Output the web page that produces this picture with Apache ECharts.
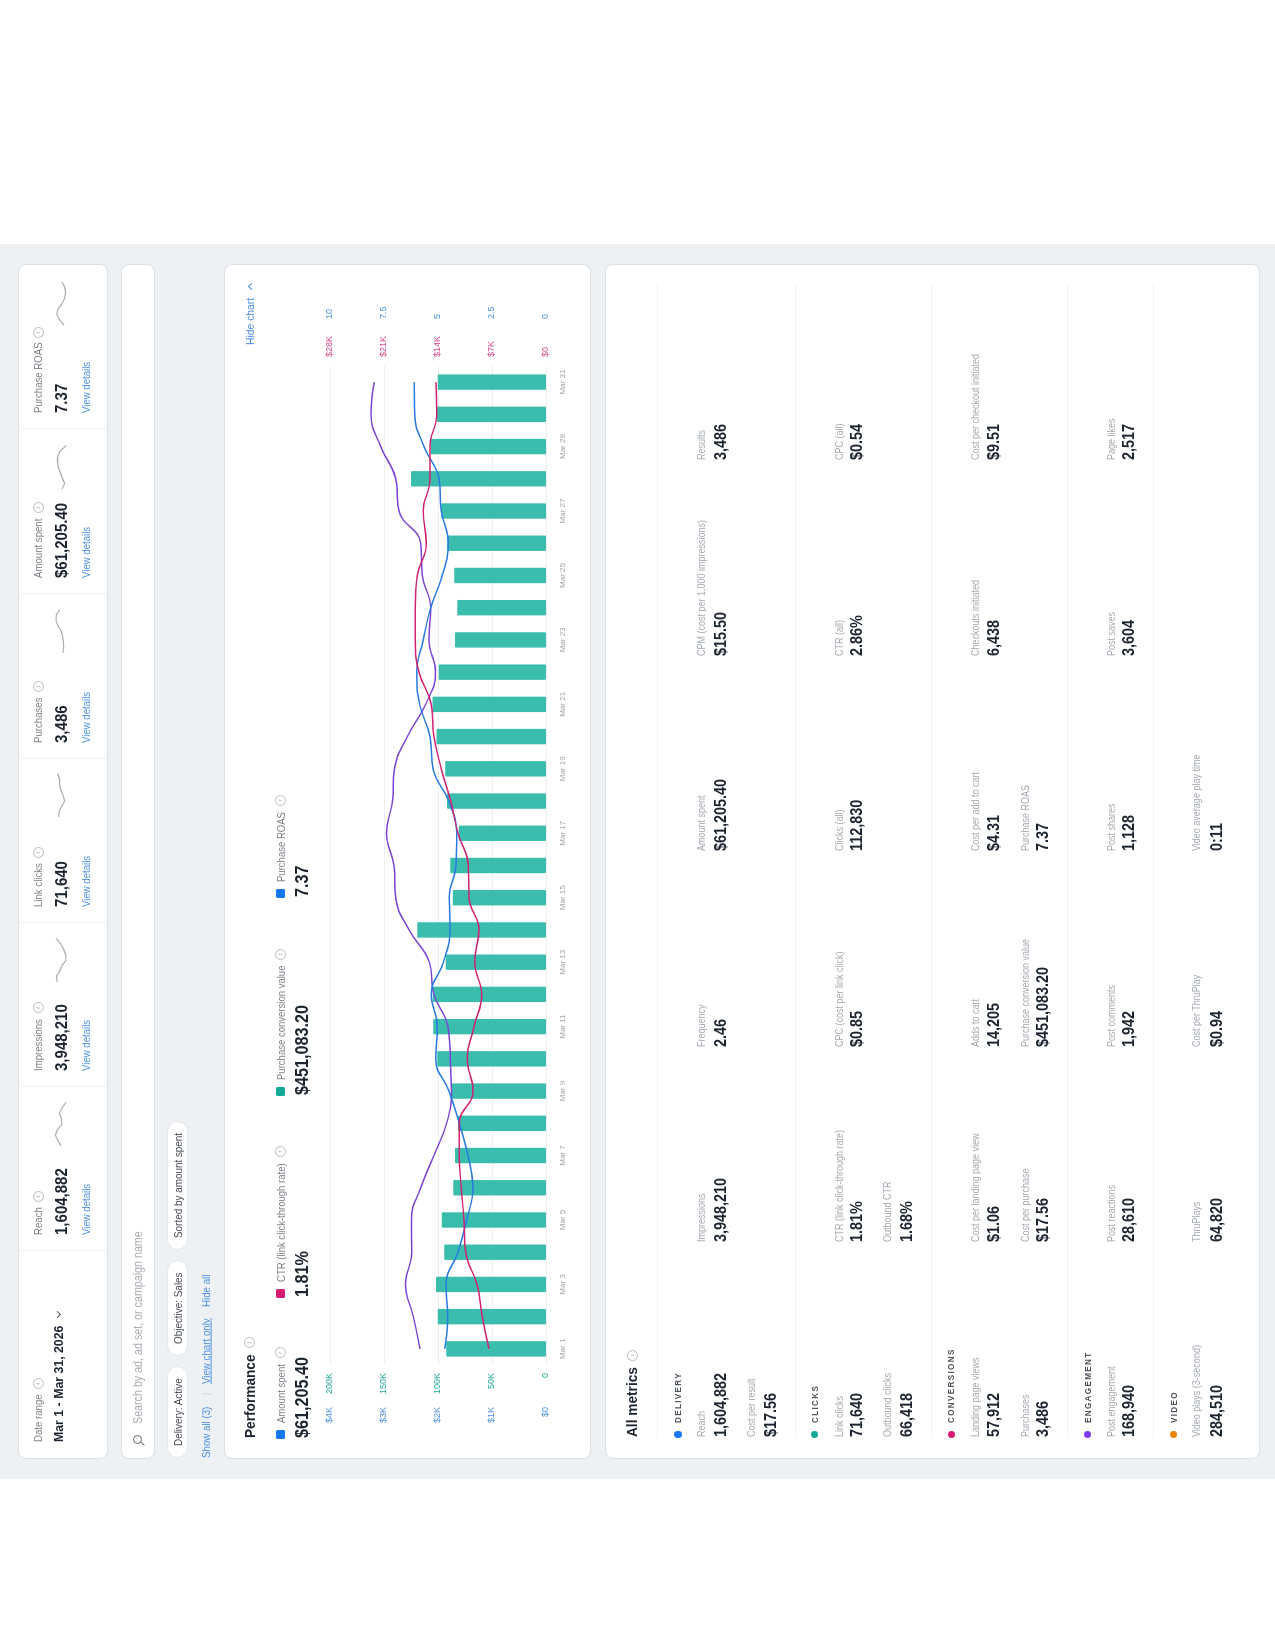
<!DOCTYPE html>
<html><head><meta charset="utf-8">
<style>
html,body{margin:0;padding:0;width:1275px;height:1650px;background:#fff;overflow:hidden;font-family:"Liberation Sans",Arial,sans-serif}
#stage{position:absolute;left:0;top:0;width:1235px;height:1275px;background:#eef1f4;transform-origin:0 0;transform:translate(0px,1479px) rotate(-90deg);overflow:hidden;filter:blur(0.3px)}
.card{position:absolute;background:#fff;border-radius:7px;box-shadow:0 0 0 1px #dde1e6,0 1px 1px #d3d7dc}
.t{position:absolute;white-space:nowrap;line-height:1;transform-origin:0 50%}
.ic{position:absolute;width:9px;height:9px;border:1px solid #b9bdc2;border-radius:50%;color:#a5a9ae;font:italic 7px/9px "Liberation Serif",serif;text-align:center}
.ln{position:absolute;background:#f1f2f4}
.chip{position:absolute;height:21.7px;background:#fff;border:1px solid #e2e5e9;border-radius:11px;box-sizing:border-box}
.chev{position:absolute;width:4px;height:4px;border-right:1.1px solid;border-bottom:1.1px solid}
#chart{position:absolute;left:0;top:0;width:1235px;height:1275px;z-index:5}
</style>
<script src="https://cdn.jsdelivr.net/npm/echarts@6/dist/echarts.min.js"></script>
</head><body>
<div id="stage"><div id="chart"></div></div>
<script>
// ---------- chart data ----------
const days = ['Mar 1','Mar 2','Mar 3','Mar 4','Mar 5','Mar 6','Mar 7','Mar 8','Mar 9','Mar 10','Mar 11','Mar 12','Mar 13','Mar 14','Mar 15','Mar 16','Mar 17','Mar 18','Mar 19','Mar 20','Mar 21','Mar 22','Mar 23','Mar 24','Mar 25','Mar 26','Mar 27','Mar 28','Mar 29','Mar 30','Mar 31'];
const conversionValue = [92300,100300,101900,94100,96600,85800,84300,81500,87300,100600,104300,104900,92900,119100,86400,88600,80900,91700,93200,101500,105200,99400,84300,82100,84900,91400,96900,125000,106800,101200,100300];
const amountSpent = [1877,1821,1852,1630,1469,1352,1444,1605,1796,2043,2012,2123,1901,1778,1790,1667,1654,1802,2093,2148,2340,2395,2272,2136,1920,1809,1938,1981,2259,2432,2438];
const ctrLine = [7389,8253,8944,10414,10630,10975,11235,11235,9463,10198,9333,8340,9247,8685,9982,10068,11407,12358,13568,14519,14864,16463,16938,16938,16679,15512,15901,15037,15037,14173,14259];
const roasLine = [5.83,6.14,6.50,6.22,6.23,5.80,5.19,4.60,4.38,4.43,4.54,5.19,5.40,6.34,6.96,7.04,7.38,7.11,7.01,6.42,5.57,5.11,5.42,5.34,5.73,5.80,6.81,6.96,7.65,8.10,7.95];
const sparkReach = [45,54,62,56,42,44,50,42,30];
const sparkImpressions = [56,59,49,42,30,31,37,46,59];
const sparkLinkClicks = [52,51,42,34,39,46,49,49,56];
const sparkPurchases = [39,37,38,40,44,54,60,59,49];
const sparkAmount = [42,34,41,47,53,56,55,47,29];
const sparkRoas = [36,49,58,54,42,34,31,34,42];

// ---------- text data ----------
const kpiLabels = ['Reach','Impressions','Link clicks','Purchases','Amount spent','Purchase ROAS'];
const kpiValues = ['1,604,882','3,948,210','71,640','3,486','$61,205.40','7.37'];
const legendLabels = ['Amount spent','CTR (link click-through rate)','Purchase conversion value','Purchase ROAS'];
const legendValues = ['$61,205.40','1.81%','$451,083.20','7.37'];
const delivery1 = [['Reach','1,604,882'],['Impressions','3,948,210'],['Frequency','2.46'],['Amount spent','$61,205.40'],['CPM (cost per 1,000 impressions)','$15.50'],['Results','3,486']];
const delivery2 = [['Cost per result','$17.56']];
const clicks1 = [['Link clicks','71,640'],['CTR (link click-through rate)','1.81%'],['CPC (cost per link click)','$0.85'],['Clicks (all)','112,830'],['CTR (all)','2.86%'],['CPC (all)','$0.54']];
const clicks2 = [['Outbound clicks','66,418'],['Outbound CTR','1.68%']];
const conv1 = [['Landing page views','57,912'],['Cost per landing page view','$1.06'],['Adds to cart','14,205'],['Cost per add to cart','$4.31'],['Checkouts initiated','6,438'],['Cost per checkout initiated','$9.51']];
const conv2 = [['Purchases','3,486'],['Cost per purchase','$17.56'],['Purchase conversion value','$451,083.20'],['Purchase ROAS','7.37']];
const engage1 = [['Post engagement','168,940'],['Post reactions','28,610'],['Post comments','1,942'],['Post shares','1,128'],['Post saves','3,604'],['Page likes','2,517']];
const video1 = [['Video plays (3-second)','284,510'],['ThruPlays','64,820'],['Cost per ThruPlay','$0.94'],['Video average play time','0:11']];

// ---------- page furniture (drawn upright in a stage that is turned -90deg) ----------
const stage = document.getElementById('stage');
const K = 0.9;
function el(cls, css, html){const d=document.createElement('div');d.className=cls;d.style.cssText=css;if(html!=null)d.innerHTML=html;stage.appendChild(d);return d;}
function card(x,y,w,h){el('card',`left:${x}px;top:${y}px;width:${w}px;height:${h}px`);}
function T(x,y,s,size,color,opt){opt=opt||{};
  const d=document.createElement('div');d.className='t';d.textContent=s;
  d.style.cssText=`left:${x}px;top:${y}px;font-size:${size}px;color:${color};font-weight:${opt.bold?700:400};transform:translateY(-50%) scaleX(${K});`+(opt.css||'');
  stage.appendChild(d);return d;}
function info(afterEl,x,y,gap){const w=afterEl.offsetWidth*K;el('ic',`left:${x+w+(gap==null?5:gap)}px;top:${y-5.5}px`,'i');}
function sq(x,y,c){el('x',`position:absolute;left:${x}px;top:${y-4.5}px;width:9px;height:9px;border-radius:1.5px;background:${c}`);}

const BLUE='#4a90e2',DARK='#1c2430',GREY='#7b8087',LIGHT='#a3a9b0';
// cards
card(21.3,18.7,1193,88.3);card(21.3,122.3,1193,32);card(21.3,224.7,1193,365);card(21.3,606,1193,652.5);
// KPI row
const cellX=[228,392.4,555.7,720.4,885.4,1049.6];
cellX.forEach(x=>el('ln',`left:${x}px;top:18.7px;width:1px;height:88.3px`));
const dr=T(37,38,'Date range',10.7,GREY,{});
info(dr,37,38);
T(37,58.5,'Mar 1 - Mar 31, 2026',13.7,DARK,{bold:1});
el('chev','left:162px;top:54.5px;color:#555;transform:rotate(45deg)');
kpiLabels.forEach((l,i)=>{const x=cellX[i]+16;
  const a=T(x,38,l,10.7,GREY);info(a,x,38);
  T(x,62,kpiValues[i],16.7,DARK,{bold:1});
  T(x,86,'View details',10.7,BLUE);
});
// search card
el('x','position:absolute;left:35px;top:133px;width:7px;height:7px;border:1.2px solid #666;border-radius:50%');
el('x','position:absolute;left:33px;top:142px;width:5px;height:1.2px;background:#666;transform:rotate(-45deg)');
T(55,138.5,'Search by ad, ad set, or campaign name',11.9,'#a9adb2');
// chips
[[21.3,91.7,'Delivery: Active'],[122.5,96.5,'Objective: Sales'],[229.4,129,'Sorted by amount spent']].forEach(c=>{
  el('chip',`left:${c[0]}px;top:166.7px;width:${c[1]}px`);
  const d=T(c[0],177.5,c[2],11,'#454a52');d.style.left=(c[0]+(c[1]-d.offsetWidth*K)/2)+'px';
});
T(21.3,205.7,'Show all (3)',10.8,BLUE);
T(84,205.7,'|',9,'#c9ccd0');
T(95,205.7,'View chart only',10.8,BLUE,{css:'text-decoration:underline;'});
T(171.5,205.7,'Hide all',10.8,BLUE);
// performance header
const pf=T(41,249.5,'Performance',15.2,DARK,{bold:1});info(pf,41,249.5,6);
T(1134,250.5,'Hide chart',11.5,BLUE);
el('chev','left:1190px;top:249px;color:#4a90e2;transform:rotate(225deg)');
const legX=[40,181,383,581],legC=['#1877f2','#d81b72','#14a898','#1877f2'];
legendLabels.forEach((l,i)=>{sq(legX[i],280.7,legC[i]);
  const a=T(legX[i]+16,280.5,l,10.6,GREY);info(a,legX[i]+16,280.5,6);
  T(legX[i]+1,302,legendValues[i],18,DARK,{bold:1});
});
// all metrics
const am=T(42,632,'All metrics',15.2,DARK,{bold:1});info(am,42,632,6);
[657,794.6,930.6,1067,1152.7].forEach(y=>el('ln',`left:41px;top:${y}px;width:1153px;height:1px`));
const colX=[41.7,237,432.4,627.8,823.2,1018.6];
function rows(list,yl,yv){list.forEach((m,i)=>{
  T(colX[i],yl+0.7,m[0],10,LIGHT);T(colX[i],yv+1,m[1],16,DARK,{bold:1});});}
function head(name,c,y){el('x',`position:absolute;left:41px;top:${y-3.7+0.5}px;width:7.4px;height:7.4px;border-radius:50%;background:${c}`);
  T(55.5,y+0.5,name,9,'#4b5159',{bold:1,css:'letter-spacing:1.5px;'});}
head('DELIVERY','#1877f2',677.5);rows(delivery1,701.6,719.7);rows(delivery2,751.5,770);
head('CLICKS','#14a898',814);rows(clicks1,839,855.7);rows(clicks2,887.6,905.6);
head('CONVERSIONS','#d81b72',950.8);rows(conv1,975.4,992.6);rows(conv2,1024.9,1042);
head('ENGAGEMENT','#7c3aed',1087.3);rows(engage1,1111,1127.8);
head('VIDEO','#e8830c',1173);rows(video1,1196.6,1215.6);

// ---------- ECharts ----------
const chart = echarts.init(document.getElementById('chart'), null, {width:1235,height:1275,renderer:'canvas'});
const grids=[{left:114,top:330,width:999,height:216}];
const xAxes=[{type:'category',gridIndex:0,data:days,boundaryGap:true,
  axisLine:{show:false},axisTick:{show:false},splitLine:{show:false},
  axisLabel:{interval:1,fontSize:8,color:'#a0a5ab',margin:13,fontFamily:'Liberation Sans',hideOverlap:false}}];
const gridLine={show:true,lineStyle:{color:'#eceef0',width:1}};
const yl=(c)=>({fontSize:9,color:c,fontFamily:'Liberation Sans'});
const yAxes=[
 {type:'value',gridIndex:0,position:'left',min:0,max:200000,interval:50000,axisLine:{show:false},axisTick:{show:false},splitLine:gridLine,axisLabel:Object.assign(yl('#1fa99b'),{margin:8,formatter:v=>v?(v/1000)+'K':'0'})},
 {type:'value',gridIndex:0,position:'left',offset:34,min:0,max:4000,interval:1000,axisLine:{show:false},axisTick:{show:false},splitLine:{show:false},axisLabel:Object.assign(yl('#4a90e2'),{margin:8,formatter:v=>'$'+(v?(v/1000)+'K':'0')})},
 {type:'value',gridIndex:0,position:'right',min:0,max:28000,interval:7000,axisLine:{show:false},axisTick:{show:false},splitLine:{show:false},axisLabel:Object.assign(yl('#d6488c'),{margin:9,formatter:v=>'$'+(v?(v/1000)+'K':'0')})},
 {type:'value',gridIndex:0,position:'right',offset:38,min:0,max:10,interval:2.5,axisLine:{show:false},axisTick:{show:false},splitLine:{show:false},axisLabel:Object.assign(yl('#4a90e2'),{margin:9})}
];
const series=[
 {name:'Purchase conversion value',type:'bar',xAxisIndex:0,yAxisIndex:0,data:conversionValue,barWidth:15.4,itemStyle:{color:'#3abdad',borderRadius:1},z:1,silent:true},
 {name:'Purchase ROAS',type:'line',xAxisIndex:0,yAxisIndex:3,data:roasLine,smooth:0.45,showSymbol:false,lineStyle:{color:'#7c45d6',width:1.5},z:3},
 {name:'Amount spent',type:'line',xAxisIndex:0,yAxisIndex:1,data:amountSpent,smooth:0.45,showSymbol:false,lineStyle:{color:'#2a7be0',width:1.5},z:4},
 {name:'CTR (link click-through rate)',type:'line',xAxisIndex:0,yAxisIndex:2,data:ctrLine,smooth:0.45,showSymbol:false,lineStyle:{color:'#cf2472',width:1.5},z:5}
];
[[333,sparkReach],[497,sparkImpressions],[662,sparkLinkClicks],[826,sparkPurchases],[990,sparkAmount],[1153.7,sparkRoas]].forEach((s,i)=>{
  const g=i+1;
  grids.push({left:s[0],top:48,width:43.5,height:28});
  xAxes.push({type:'category',gridIndex:g,show:false,boundaryGap:false,data:s[1].map((_,j)=>j)});
  yAxes.push({type:'value',gridIndex:g,show:false,min:0,max:84});
  series.push({type:'line',xAxisIndex:g,yAxisIndex:yAxes.length-1,data:s[1],showSymbol:false,smooth:false,lineStyle:{color:'#a9adb2',width:1.2},silent:true});
});
chart.setOption({animation:false,backgroundColor:'transparent',tooltip:{show:false},grid:grids,xAxis:xAxes,yAxis:yAxes,series:series});
</script>
</body></html>
